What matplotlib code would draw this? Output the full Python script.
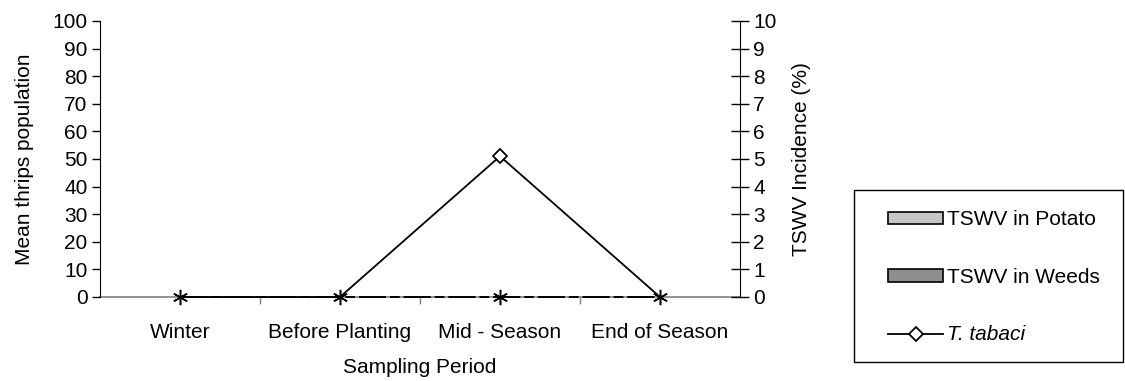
import matplotlib.pyplot as plt
from matplotlib.patches import Patch, Rectangle
from matplotlib.lines import Line2D

plt.rcParams['font.family'] = ['Liberation Sans', 'DejaVu Sans']

# ── Data ──────────────────────────────────────────────────────────────────────
periods      = ['Winter', 'Before Planting', 'Mid - Season', 'End of Season']
t_tabaci     = [0, 0, 51, 0]          # mean thrips population (left axis)
other_thrips = [0, 0, 0, 0]           # asterisk series, not in legend
tswv_potato  = [0, 0, 0, 0]           # TSWV incidence % (right axis)
tswv_weeds   = [0, 0, 0, 0]

x = list(range(len(periods)))

# ── Figure ────────────────────────────────────────────────────────────────────
fig = plt.figure(figsize=(11.25, 3.81), dpi=100)
ax2 = fig.add_axes([100/1125, 84/381, 640/1125, 276/381])
ax = ax2.twinx()          # thrips axis drawn on top so lines sit over the bars
ax.yaxis.tick_left()
ax.yaxis.set_label_position('left')
ax2.yaxis.tick_right()
ax2.yaxis.set_label_position('right')

FS = 15

# bars of TSWV incidence (all zero, so nothing shows)
w = 0.3
ax2.bar([i - w/2 for i in x], tswv_potato, width=w, color='#c6c6c6', linewidth=0)
ax2.bar([i + w/2 for i in x], tswv_weeds, width=w, color='#8e8e8e', linewidth=0)

ax.plot(x, other_thrips, color='black', linewidth=1.4, dashes=(14, 2, 5, 2),
        marker=(6, 2, 0), markersize=11, markeredgewidth=1.1, zorder=4, clip_on=False)
ax.plot(x, t_tabaci, color='black', linewidth=1.3, zorder=5, clip_on=False)
ax.plot(x, t_tabaci, linestyle='none', marker='D', markersize=7.5,
        markerfacecolor='white', markeredgecolor='black', markeredgewidth=1.3,
        markevery=[2], zorder=6, clip_on=False)

ax.set_xlim(-0.5, 3.5)
ax.set_ylim(0, 100)
ax2.set_ylim(0, 10)

ax.set_yticks(range(0, 101, 10))
ax2.set_yticks(range(0, 11, 1))
ax2.set_xticks(x)
ax2.set_xticklabels(periods, fontsize=FS)
ax2.set_xticks([0.5, 1.5, 2.5], minor=True)
ax2.tick_params(axis='x', which='major', length=0, pad=19)
ax2.tick_params(axis='x', which='minor', length=5, color='#808080', width=1)
ax.tick_params(axis='y', direction='out', length=6, width=1, labelsize=FS, pad=3)
ax2.tick_params(axis='y', direction='inout', length=13, width=1, labelsize=FS, pad=3)

for a in (ax, ax2):
    a.spines['top'].set_visible(False)
    a.set_facecolor('none')
ax2.spines['bottom'].set_color('#808080')
ax2.spines['bottom'].set_linewidth(1.2)
ax2.spines['bottom'].set_zorder(0)
ax.spines['bottom'].set_visible(False)
ax2.spines['left'].set_visible(False)
ax.spines['right'].set_visible(False)

ax.set_ylabel('Mean thrips population', fontsize=FS, labelpad=13)
ax2.set_ylabel('TSWV Incidence (%)', fontsize=FS, labelpad=11)
ax2.set_xlabel('Sampling Period', fontsize=FS, labelpad=11)

# ── Legend ────────────────────────────────────────────────────────────────────
handles = [
    Patch(facecolor='#c6c6c6', edgecolor='black', linewidth=1.2),
    Patch(facecolor='#8e8e8e', edgecolor='black', linewidth=1.2),
    Line2D([], [], color='black', linewidth=1.3, marker='D', markersize=7.5,
           markerfacecolor='white', markeredgecolor='black', markeredgewidth=1.3),
]
labels = ['TSWV in Potato', 'TSWV in Weeds', 'T. tabaci']
leg = fig.legend(handles, labels, loc='upper left',
                 bbox_to_anchor=(878/1125, 1 - 200/381), frameon=False,
                 fontsize=FS, handlelength=2.6, handleheight=0.55,
                 handletextpad=0.2, labelspacing=1.85, borderpad=0)
leg.get_texts()[2].set_fontstyle('italic')

fig.patches.append(Rectangle((854/1125, 1 - 362/381), 269/1125, 172/381,
                             transform=fig.transFigure, fill=False,
                             edgecolor='black', linewidth=1.0))

fig.savefig('out.png', dpi=100)
